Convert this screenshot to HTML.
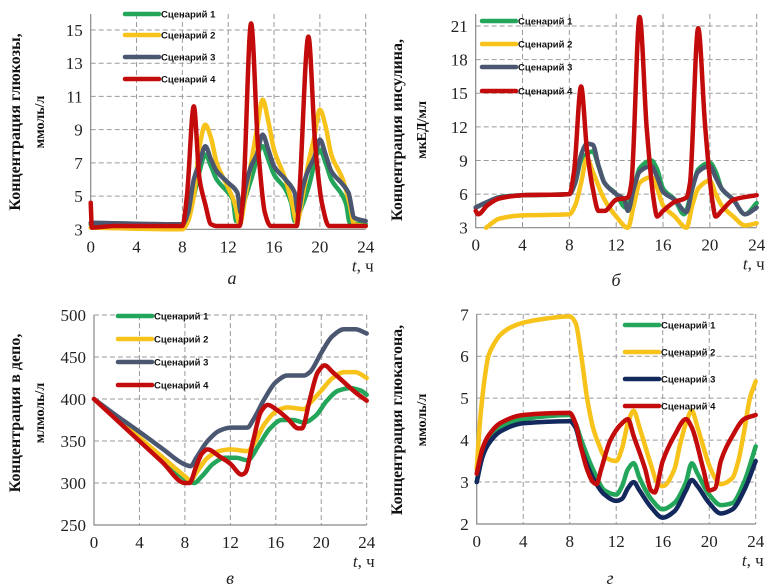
<!DOCTYPE html>
<html><head><meta charset="utf-8">
<style>
html,body{margin:0;padding:0;background:#fff;}
svg{display:block;}
.tick{font-family:"Liberation Serif",serif;font-size:17px;fill:#222;}
.yt{font-family:"Liberation Serif",serif;font-weight:bold;fill:#111;}
.lg{font-family:"Liberation Sans",sans-serif;font-weight:bold;font-size:9.5px;fill:#111;}
.cap{font-family:"Liberation Serif",serif;font-style:italic;font-size:18px;fill:#222;}
</style></head>
<body>
<svg id="chart" width="775" height="584" viewBox="0 0 775 584" xmlns="http://www.w3.org/2000/svg"></svg>
<script>
const xTicks = [0,4,8,12,16,20,24];
const seriesNames = ["Сценарий 1","Сценарий 2","Сценарий 3","Сценарий 4"];

// Panel a: glucose
const aTicks = [3,5,7,9,11,13,15];
const aS1 = [[0,3.3],[8,3.2],[8.5,3.8],[9,5],[9.5,6.5],[10,7.5],[10.5,6.8],[11,6],[12,5.2],[12.4,4.8],[12.7,3.5],[13.3,4.5],[14,6],[15,8],[15.5,7.2],[16,6.3],[17,5.4],[17.5,4.6],[17.8,3.5],[18.5,4.5],[19,5.5],[20,7.8],[20.5,7],[21,6],[22,5],[22.3,4.5],[22.6,3.4],[24,3.3]];
const aS2 = [[0,3.1],[8,3.0],[8.5,3.5],[9,5],[9.5,8],[10,9.3],[10.5,8.5],[11,7],[12,5.5],[12.6,4.5],[13,3.3],[13.5,5],[14,7],[14.5,9],[15,10.8],[15.5,9.5],[16,7.8],[17,6],[17.6,4.5],[18,3.4],[18.5,5],[19,7],[19.5,8.5],[20,10.2],[20.5,9.2],[21,7.5],[22,6],[22.6,4.5],[23,3.3],[24,3.2]];
const aS3 = [[0,3.4],[8,3.3],[8.5,4],[9,6],[9.5,7],[10,8],[10.5,7.2],[11,6.5],[12,5.8],[12.8,5.2],[13.1,4],[13.5,5.5],[14,6.8],[14.5,7.5],[15,8.7],[15.5,7.8],[16,6.8],[17,6],[17.8,5.2],[18.1,4],[18.5,5.5],[19,6.6],[19.5,7.3],[20,8.4],[20.5,7.5],[21,6.5],[22,5.7],[22.5,5.2],[23,3.7],[24,3.5]];
const aS4 = [[0,4.6],[0.1,3.1],[2,3.2],[8,3.2],[8.4,5],[9,10.4],[9.5,6],[10,4.5],[10.5,3.3],[11,3.2],[13,3.2],[13.3,5],[14,15.4],[14.6,8],[15.2,4],[15.7,3.2],[18,3.2],[18.2,5],[19,14.6],[19.6,8],[20.2,4.5],[20.8,3.2],[24,3.2]];

// Panel б: insulin
const bTicks = [3,6,9,12,15,18,21];
const bS1 = [[0,4.8],[1,5.3],[2,5.7],[4,5.9],[8,6],[8.5,7],[9,9],[10,9.8],[10.5,8.5],[11,7],[12,6],[12.8,4.8],[13.5,6.5],[14,8.3],[15,9],[15.5,8.2],[16,6.5],[17,5.5],[17.8,4.2],[18.5,6.5],[19,8.2],[20,8.8],[20.5,8],[21,6.5],[22,5.5],[23,4.2],[24,5.2]];
const bS2 = [[0.9,3],[1.5,3.5],[2,3.8],[4,4.1],[8,4.2],[8.5,5],[9,7],[9.5,9.2],[10,8],[11,5.5],[12,4],[13,3],[13.5,5],[14,7],[15,7.5],[15.5,6.5],[16,5],[17,4],[18,3],[18.5,5],[19,6.5],[20,7.2],[20.5,6],[21,5],[22,4],[23,3.2],[24,3.4]];
const bS3 = [[0,4.8],[1,5.3],[2,5.7],[4,5.9],[8,6],[8.5,7],[9,9.5],[9.5,10.5],[10,10.4],[10.5,8.5],[11,7],[12,6],[12.7,5.5],[13,4.5],[13.5,6.5],[14,8],[15,8.5],[15.5,7.5],[16,6.2],[17,5.5],[18,4.4],[18.5,6.5],[19,8],[20,8.5],[20.5,7.5],[21,6.5],[22,5.5],[23,4.2],[24,4.8]];
const bS4 = [[0,4.5],[0.2,4.2],[1,5],[2,5.6],[4,5.9],[8,6],[8.4,8],[9,15.6],[9.5,10],[10,6.5],[10.5,4.5],[11,4.5],[12,5.5],[13,5.7],[13.3,7],[14,21.8],[14.6,12],[15.2,5.5],[15.5,4],[16,4.5],[17,5.3],[18,5.7],[18.3,7],[19,20.8],[19.6,12],[20.2,5.5],[20.5,4],[21,4.5],[22,5.5],[24,5.9]];

// Panel в: depot
const cTicks = [250,300,350,400,450,500];
const cS1 = [[0,400],[2,376],[4,352],[6,328],[8,305],[8.8,300],[9.5,308],[10.5,323],[11.5,330],[12.5,330],[13.5,327],[14.5,345],[15.5,365],[16.5,375],[17.5,375],[18.5,372],[19.5,380],[20.5,398],[21.5,410],[22.5,413],[23.5,410],[24,405]];
const cS2 = [[0,400],[2,377],[4,354],[6,331],[8,308],[8.5,303],[9,312],[10,330],[11,338],[12,340],[13.5,338],[14,345],[15,370],[16,385],[17,390],[18.5,388],[19,395],[20,410],[21,425],[22,432],[23,432],[24,425]];
const cS3 = [[0,400],[2,380],[4,361],[6,341],[8,322],[8.5,320],[9,330],[10,350],[11,362],[12,366],[13.5,366],[14,375],[15,400],[16,420],[17,428],[18.5,428],[19,432],[20,455],[21,475],[22,483],[23,483],[24,478]];
const cS4 = [[0,400],[2,375],[4,350],[6,325],[8,300],[8.4,300],[9,320],[9.5,335],[10,340],[11,332],[12,323],[13,310],[13.3,312],[14,350],[14.7,385],[15.3,393],[16,388],[17,377],[18,365],[18.3,365],[19,400],[19.7,432],[20.3,440],[21,432],[22,420],[23,408],[24,398]];

// Panel г: glucagon
const dTicks = [2,3,4,5,6,7];
const dS1 = [[0,3],[0.5,3.7],[1,4],[2,4.3],[4,4.5],[8,4.6],[8.5,4.4],[9,4],[10,3.3],[11,2.8],[12,2.7],[12.5,2.9],[13,3.3],[13.5,3.45],[14,3.1],[15,2.6],[16,2.35],[17,2.5],[18,3],[18.5,3.45],[19,3.2],[20,2.7],[21,2.45],[22,2.5],[23,3],[24,3.85]];
const dS2 = [[0,3.3],[0.3,4.5],[0.7,5.5],[1,6],[1.5,6.3],[2,6.5],[3,6.7],[4,6.8],[6,6.9],[8,6.95],[8.5,6.8],[9,6],[9.5,5],[10,4.3],[10.5,3.9],[11,3.6],[12,3.5],[12.5,3.8],[13,4.4],[13.5,4.7],[14,4.3],[15,3.4],[15.5,3],[16,2.9],[17,3.3],[17.5,3.9],[18,4.4],[18.5,4.7],[19,4.3],[20,3.4],[20.5,3.1],[21,2.95],[22,3.1],[22.5,3.5],[23,4.2],[23.5,5],[24,5.4]];
const dS3 = [[0,3],[0.5,3.6],[1,3.9],[2,4.2],[4,4.4],[8,4.45],[8.5,4.3],[9,3.8],[10,3.1],[11,2.7],[12,2.55],[12.5,2.6],[13,2.85],[13.5,3],[14,2.8],[15,2.4],[16,2.15],[17,2.3],[18,2.8],[18.5,3.05],[19,2.9],[20,2.5],[21,2.25],[22,2.35],[23,2.8],[24,3.5]];
const dS4 = [[0,3.2],[0.5,3.8],[1,4.1],[2,4.4],[4,4.6],[8,4.65],[8.5,4.4],[9,3.8],[9.5,3.3],[10,3],[10.3,2.95],[10.7,3.3],[11.5,4],[12.5,4.4],[13,4.5],[13.5,4.1],[14.5,3.3],[15,2.8],[15.3,2.75],[16,3.5],[17,4.1],[18,4.5],[18.5,4.3],[19.5,3.3],[20,2.8],[20.5,2.85],[21,3.5],[22,4.1],[23,4.5],[24,4.6]];

const NS="http://www.w3.org/2000/svg";
const svg=document.getElementById('chart');
function mk(tag,attrs,parent){const e=document.createElementNS(NS,tag);for(const k in attrs)e.setAttribute(k,attrs[k]);(parent||svg).appendChild(e);return e;}

function smoothPath(pts){
  const n=pts.length;
  if(n<2)return "";
  const dx=[],sl=[];
  for(let i=0;i<n-1;i++){dx[i]=pts[i+1][0]-pts[i][0];sl[i]=(pts[i+1][1]-pts[i][1])/dx[i];}
  const m=[];
  m[0]=sl[0];m[n-1]=sl[n-2];
  for(let i=1;i<n-1;i++){
    if(sl[i-1]*sl[i]<=0)m[i]=0;
    else{const w1=2*dx[i]+dx[i-1],w2=dx[i]+2*dx[i-1];m[i]=(w1+w2)/(w1/sl[i-1]+w2/sl[i]);}
  }
  let d="M"+pts[0][0].toFixed(1)+","+pts[0][1].toFixed(1);
  for(let i=0;i<n-1;i++){
    const h=dx[i]/3;
    d+=" C"+(pts[i][0]+h).toFixed(1)+","+(pts[i][1]+m[i]*h).toFixed(1)+" "+(pts[i+1][0]-h).toFixed(1)+","+(pts[i+1][1]-m[i+1]*h).toFixed(1)+" "+pts[i+1][0].toFixed(1)+","+pts[i+1][1].toFixed(1);
  }
  return d;
}

function panel(cfg){
  const g=mk('g',{});
  
  
  const xs=v=>cfg.x0+(cfg.x1-cfg.x0)*v/24;
  const ys=v=>cfg.yb+(cfg.yt-cfg.yb)*(v-cfg.ymin)/(cfg.ymax-cfg.ymin);
  const top=cfg.top;
  xTicks.forEach(t=>{
    if(t===0)return;
    const l=mk('line',{x1:xs(t),x2:xs(t),y1:top,y2:ys(cfg.ymin),stroke:'#9a9a9a','stroke-width':1,'stroke-dasharray':'5,3'},g);
    
    
  });
  cfg.ticks.forEach(t=>{
    if(t===cfg.ymin)return;
    const l=mk('line',{x1:cfg.x0,x2:xs(24),y1:ys(t),y2:ys(t),stroke:'#9a9a9a','stroke-width':1,'stroke-dasharray':'5,3'},g);
    
    
  });
  const ax=mk('path',{d:`M${cfg.x0},${top} V${ys(cfg.ymin)} H${xs(24)}`,fill:'none',stroke:'#888','stroke-width':1.2},g);
  
  
  cfg.ticks.forEach(t=>{
    const e=mk('text',{x:cfg.x0-8,y:ys(t)+6,'text-anchor':'end',class:'tick'},g);
    e.textContent=t;
    
    
  });
  xTicks.forEach(t=>{
    const e=mk('text',{x:xs(t),y:ys(cfg.ymin)+23,'text-anchor':'middle',class:'tick'},g);
    e.textContent=t;
    
    
  });
  const xt=mk('text',{x:xs(24)+8,y:ys(cfg.ymin)+42,'text-anchor':'end',class:'tick'},g);
  xt.innerHTML='<tspan font-style="italic">t</tspan>, ч';
  
  
  const yt=mk('text',{transform:`translate(${cfg.ytx},${cfg.yty}) rotate(-90)`,'text-anchor':'middle',class:'yt'},g);
  yt.innerHTML=`<tspan x="0" y="0" font-size="16">${cfg.yt1}</tspan><tspan x="0" y="24" font-size="14">${cfg.yt2}</tspan>`;
  
  
  const cp=mk('text',{x:cfg.capx,y:cfg.capy,'text-anchor':'middle',class:'cap'},g);
  cp.textContent=cfg.cap;
  
  
  cfg.series.forEach((s,i)=>{
    const pts=s.map(p=>[xs(p[0]),ys(p[1])]);
    const p=mk('path',{d:smoothPath(pts),fill:'none',stroke:cfg.colors[i],'stroke-width':4.5,'stroke-linejoin':'round','stroke-linecap':'round'},g);
    
    
  });
  cfg.legY.forEach((y,i)=>{
    const l=mk('line',{x1:cfg.legX,x2:cfg.legX+34,y1:y,y2:y,stroke:cfg.colors[i],'stroke-width':4.5,'stroke-linecap':'round'},g);
    
    
    const t=mk('text',{x:cfg.legX+36,y:y+3.5,class:'lg'},g);
    t.textContent=seriesNames[i];
    
    
  });
}

const C1=['#23a55a','#f7c21a','#4b5770','#c30b0b'];
const C2=['#23a55a','#f7c21a','#13285c','#c30b0b'];

panel({name:'glucose-panel',x0:90.7,x1:365.7,yb:229.3,yt:30,ymin:3,ymax:15,top:14,ticks:aTicks,
  series:[aS1,aS2,aS3,aS4],colors:C1,legX:125,legY:[14,35,57,79],
  yt1:'Концентрация глюкозы,',yt2:'ммоль/л',ytx:20,yty:122,cap:'а',capx:232,capy:284});
panel({name:'insulin-panel',x0:475.7,x1:756.7,yb:227.7,yt:26,ymin:3,ymax:21,top:14,ticks:bTicks,
  series:[bS1,bS2,bS3,bS4],colors:C1,legX:482,legY:[21,44,67,91],
  yt1:'Концентрация инсулина,',yt2:'мкЕД/мл',ytx:402,yty:130,cap:'б',capx:616,capy:286});
panel({name:'depot-panel',x0:94,x1:366.7,yb:525,yt:315,ymin:250,ymax:500,top:315,ticks:cTicks,
  series:[cS1,cS2,cS3,cS4],colors:C1,legX:118,legY:[316,339,362,385],
  yt1:'Концентрация в депо,',yt2:'млмоль/л',ytx:20,yty:413,cap:'в',capx:230,capy:584});
panel({name:'glucagon-panel',x0:476.7,x1:755.7,yb:524,yt:314.3,ymin:2,ymax:7,top:314,ticks:dTicks,
  series:[dS1,dS2,dS3,dS4],colors:C2,legX:625,legY:[325,352,379,406],
  yt1:'Концентрация глюкагона,',yt2:'ммоль/л',ytx:402,yty:420,cap:'г',capx:610,capy:584});
</script>
</body></html>
